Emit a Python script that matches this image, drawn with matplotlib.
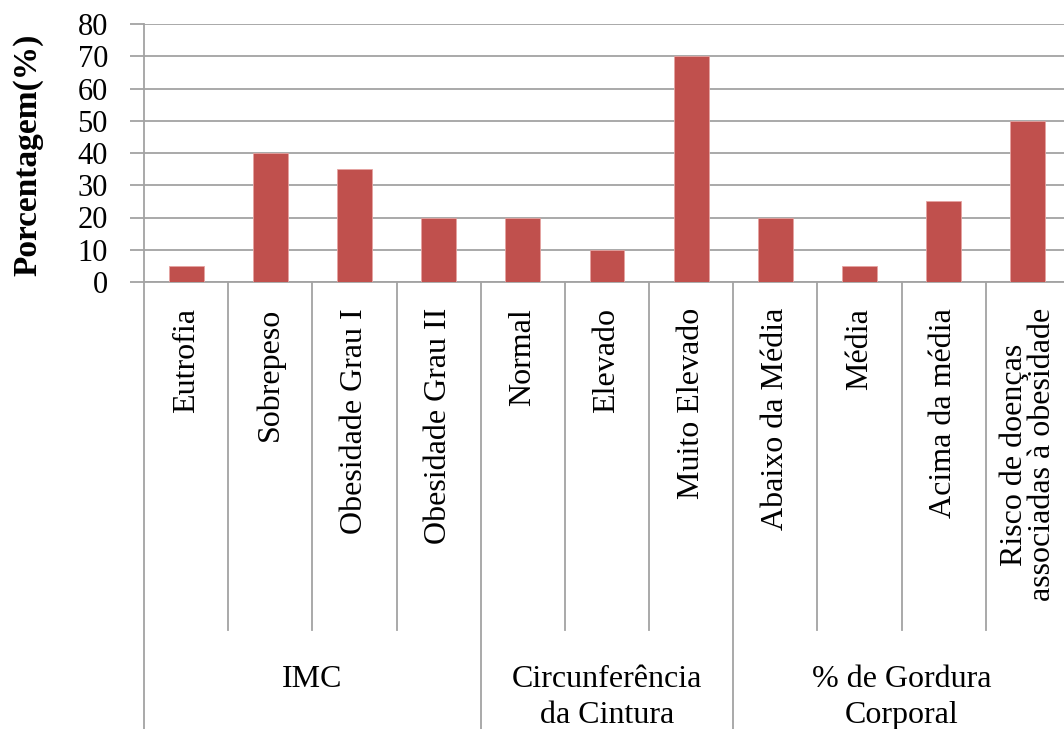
import matplotlib.pyplot as plt

plt.rcParams['font.family'] = ['Liberation Serif', 'DejaVu Serif']

# data
categories = ['Eutrofia', 'Sobrepeso', 'Obesidade Grau I', 'Obesidade Grau II',
              'Normal', 'Elevado', 'Muito Elevado',
              'Abaixo da Média', 'Média', 'Acima da média',
              'Risco de doenças\nassociadas à obesidade']
values = [5, 40, 35, 20, 20, 10, 70, 20, 5, 25, 50]
groups = ['IMC', 'Circunferência\nda Cintura', '% de Gordura\nCorporal']
group_sizes = [4, 3, 4]

W, H = 1064, 729
fig = plt.figure(figsize=(W / 100, H / 100), dpi=100)
# axes box in pixels: left 144, top 24, bottom 282, right ~1070
ax = fig.add_axes([144 / W, 1 - 282 / H, (1070 - 144) / W, (282 - 24) / H])

grid_c = '#A3A3A3'
x = list(range(len(categories)))
ax.bar(x, values, width=0.415, color='#C0504D', edgecolor='#E6A3A1', linewidth=0.6, zorder=3)

ax.set_xlim(-0.5, len(categories) - 0.5)
ax.set_ylim(0, 80)
ax.set_yticks(range(0, 81, 10))
ax.yaxis.grid(True, color=grid_c, linewidth=1.3, zorder=0)
ax.tick_params(axis='y', length=10, width=1.3, color=grid_c, pad=16, labelsize=22)
ax.set_xticks([])
for s in ['top', 'right']:
    ax.spines[s].set_visible(False)
for s in ['left', 'bottom']:
    ax.spines[s].set_color(grid_c)
    ax.spines[s].set_linewidth(1.3)

fig.text(28 / W, 1 - 155 / H, 'Porcentagem(%)', rotation=90, fontsize=24,
         fontweight='bold', ha='center', va='center')

trans = ax.get_xaxis_transform()
axh = 282 - 24


def px(y):
    # pixel row below the axis -> axes fraction
    return -(y - 282) / axh


# category labels
for i, lab in enumerate(categories):
    ax.text(i, px(308), lab, rotation=90, ha='center', va='top', fontsize=23,
            multialignment='center', linespacing=0.95, transform=trans)

# separators
bounds = [0]
for n in group_sizes:
    bounds.append(bounds[-1] + n)
for i in range(len(categories)):
    xs = i - 0.5
    y_end = px(729) if i in bounds else px(630)
    ax.plot([xs, xs], [0, y_end], color=grid_c, linewidth=1.3, transform=trans, clip_on=False)

# group labels
for g, lab in enumerate(groups):
    c = (bounds[g] + bounds[g + 1] - 1) / 2
    ax.text(c, px(665), lab, ha='center', va='top', fontsize=23,
            multialignment='center', linespacing=1.3, transform=trans)

fig.savefig('out.png', dpi=100)
